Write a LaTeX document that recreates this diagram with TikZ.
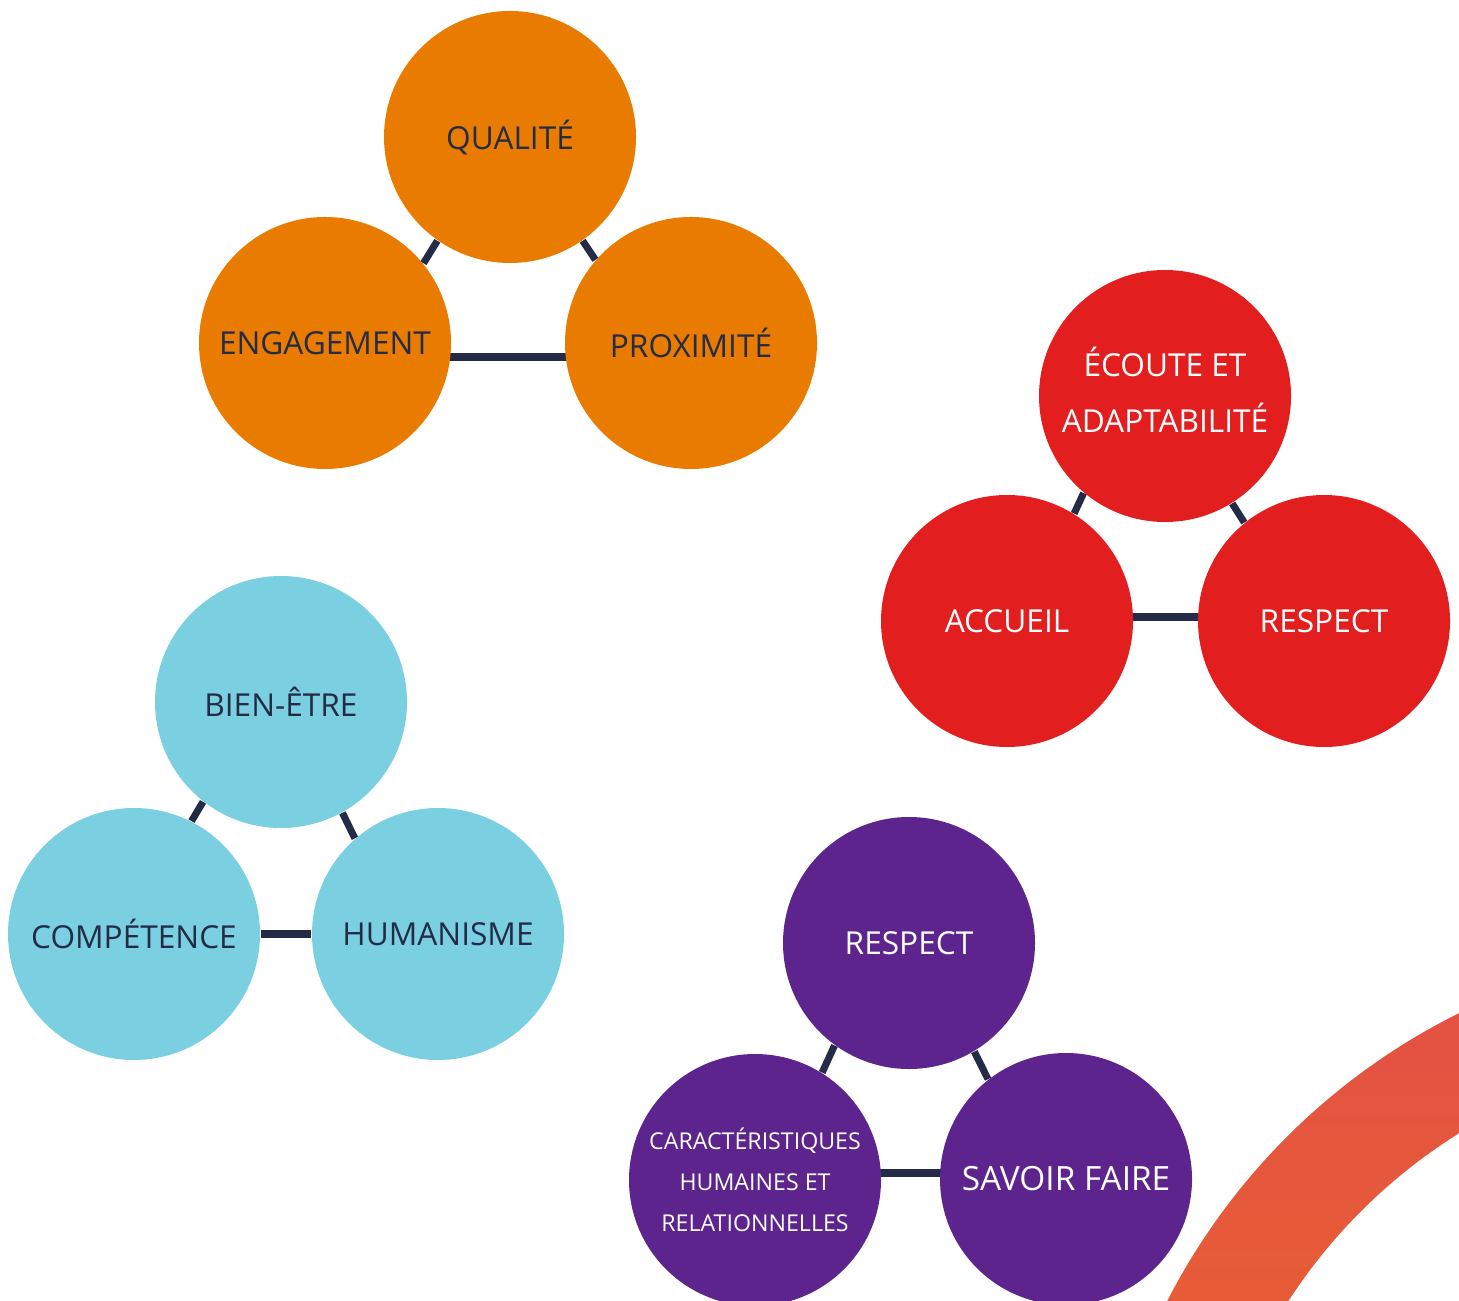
\documentclass[tikz,border=0pt]{standalone}
\usepackage{fontspec}
\setmainfont{Open Sans}
\usetikzlibrary{backgrounds}

\definecolor{orangeV}{HTML}{E97C00}
\definecolor{redV}{HTML}{E31E1E}
\definecolor{cyanV}{HTML}{7ACFE0}
\definecolor{purpleV}{HTML}{5C248C}
\definecolor{navyV}{HTML}{232B47}
\definecolor{arcTop}{HTML}{E34F46}
\definecolor{arcBot}{HTML}{EA6828}

\tikzset{
  value/.style={circle,minimum size=2.52cm,inner sep=0pt,align=center,
    font=\fontsize{9}{16}\selectfont},
  darktext/.style={value,text=navyV},
  lighttext/.style={value,text=white},
  link/.style={navyV,line width=2pt}
}

\begin{document}
\begin{tikzpicture}
		\useasboundingbox (0,0) rectangle (14.59,-13);

		% orange group
		\node[darktext,fill=orangeV] (qualite) at (5.10,-1.37) {QUALITÉ};
		\node[darktext,fill=orangeV] (engagement) at (3.25,-3.43) {ENGAGEMENT};
		\node[darktext,fill=orangeV] (proximite) at (6.91,-3.43) {PROXIMITÉ};

		% red group
		\node[lighttext,fill=redV] (ecoute) at (11.65,-3.96)
			{\raisebox{0.06cm}[\height][\depth]{\shortstack{ÉCOUTE ET\\[0.16cm]ADAPTABILITÉ}}};
		\node[lighttext,fill=redV] (accueil) at (10.07,-6.21) {ACCUEIL};
		\node[lighttext,fill=redV] (respectR) at (13.24,-6.21) {RESPECT};

		% cyan group
		\node[darktext,fill=cyanV] (bienetre) at (2.81,-7.02) {BIEN-ÊTRE};
		\node[darktext,fill=cyanV] (competence) at (1.34,-9.34) {COMPÉTENCE};
		\node[darktext,fill=cyanV] (humanisme) at (4.38,-9.34) {HUMANISME};

		% purple group
		\node[lighttext,fill=purpleV] (respectP) at (9.09,-9.43) {RESPECT};
		\node[lighttext,fill=purpleV,font=\fontsize{6.6}{11.7}\selectfont] (caract) at (7.55,-11.80)
			{CARACTÉRISTIQUES\\HUMAINES ET\\RELATIONNELLES};
		\node[lighttext,fill=purpleV,font=\fontsize{9.5}{16}\selectfont] (savoir) at (10.66,-11.79) {SAVOIR FAIRE};

		\begin{pgfonlayer}{background}
		\draw[link] (qualite.235) -- (engagement.39);
		\draw[link] (qualite.305) -- (proximite.139);
		\draw[link] ([yshift=-0.14cm]engagement.center) -- ([yshift=-0.14cm]proximite.center);

		\draw[link] (ecoute.230) -- (accueil.58);
		\draw[link] (ecoute.302) -- (respectR.129);
		\draw[link] ([yshift=0.04cm]accueil.center) -- ([yshift=0.04cm]respectR.center);

		\draw[link] (bienetre.232) -- (competence.63);
		\draw[link] (bienetre.299) -- (humanisme.131);
		\draw[link] (competence) -- (humanisme);

		\draw[link] (respectP.234) -- (caract.58);
		\draw[link] (respectP.301) -- (savoir.128);
		\draw[link] ([yshift=0.07cm]caract.center) -- ([yshift=0.06cm]savoir.center);

		% arc band, bottom right
		\begin{scope}
			\clip (0,0) rectangle (14.59,-13);
			\shade[top color=arcTop,bottom color=arcBot]
				(17.5,-16) ++(100:6.55) arc[start angle=100,end angle=170,radius=6.55]
				-- ++(-10:1.05) arc[start angle=170,end angle=100,radius=5.5] -- cycle;
		\end{scope}
		\end{pgfonlayer}

	\end{tikzpicture}
\end{document}
